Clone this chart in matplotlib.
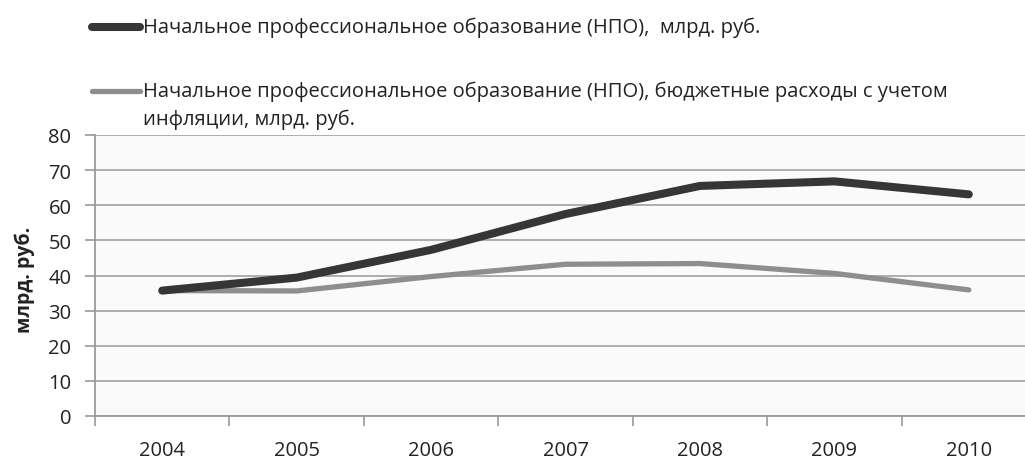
import matplotlib
matplotlib.use("Agg")
import matplotlib.pyplot as plt
from matplotlib.lines import Line2D
import numpy as np

years = ["2004", "2005", "2006", "2007", "2008", "2009", "2010"]
npo_nominal = [35.7, 39.4, 47.3, 57.5, 65.5, 66.8, 63.1]
npo_real = [35.7, 35.6, 39.7, 43.2, 43.4, 40.6, 35.9]
label_nominal = "Начальное профессиональное образование (НПО),  млрд. руб."
label_real = "Начальное профессиональное образование (НПО), бюджетные расходы с учетом\nинфляции, млрд. руб."
ylabel = "млрд. руб."
yticks = [0, 10, 20, 30, 40, 50, 60, 70, 80]

plt.rcParams['font.family'] = ['Open Sans', 'DejaVu Sans']

W, H = 1025, 464
fig = plt.figure(figsize=(W / 100, H / 100), dpi=100)
ax = fig.add_axes([95 / W, 1 - 417 / H, (1036 - 95) / W, (417 - 136) / H])
ax.set_facecolor('#fafafa')

x = np.arange(len(years))
c_dark = '#363636'
c_gray = '#8e8e8e'
ax.plot(x, npo_real, color=c_gray, lw=3.8, solid_capstyle='round', solid_joinstyle='round', zorder=3)
ax.plot(x, npo_nominal, color=c_dark, lw=5.8, solid_capstyle='round', solid_joinstyle='round', zorder=4)

ax.set_xlim(-0.5, len(years) - 0.5)
ax.set_ylim(0, 80)
ax.set_yticks(yticks)
ax.set_xticks(x)
ax.set_xticklabels(years)
ax.set_xticks(np.arange(len(years) + 1) - 0.5, minor=True)
ax.tick_params(axis='x', which='major', length=0, pad=17, labelsize=14.5, labelcolor='#222222')
ax.tick_params(axis='x', which='minor', length=7, color='#9a9a9a', width=1.2, direction='out')
ax.tick_params(axis='y', length=7, color='#9a9a9a', width=1.2, pad=10, labelsize=14.5, labelcolor='#222222')
ax.grid(axis='y', color='#a8a8a8', lw=1.3, zorder=1)
ax.set_axisbelow(True)
for s in ['top', 'right']:
    ax.spines[s].set_visible(False)
for s in ['left', 'bottom']:
    ax.spines[s].set_color('#9a9a9a')
    ax.spines[s].set_linewidth(1.3)

fig.text(25 / W, 1 - 280 / H, ylabel, rotation=90, ha='center', va='center',
         fontsize=14, fontweight='bold', color='#222222')

# legend
fs = 14.5
fig.add_artist(Line2D([92 / W, 140 / W], [1 - 28 / H, 1 - 28 / H], color=c_dark, lw=5.8,
                      solid_capstyle='round', transform=fig.transFigure))
fig.text(143 / W, 1 - 28 / H, label_nominal, ha='left', va='center', fontsize=fs, color='#222222')
fig.add_artist(Line2D([92 / W, 140 / W], [1 - 92 / H, 1 - 92 / H], color=c_gray, lw=3.8,
                      solid_capstyle='round', transform=fig.transFigure))
fig.text(143 / W, 1 - 92 / H, label_real.split("\n")[0], ha='left', va='center', fontsize=fs, color='#222222')
fig.text(143 / W, 1 - 120 / H, label_real.split("\n")[1], ha='left', va='center', fontsize=fs, color='#222222')

fig.savefig("out.png", dpi=100, facecolor='white')
